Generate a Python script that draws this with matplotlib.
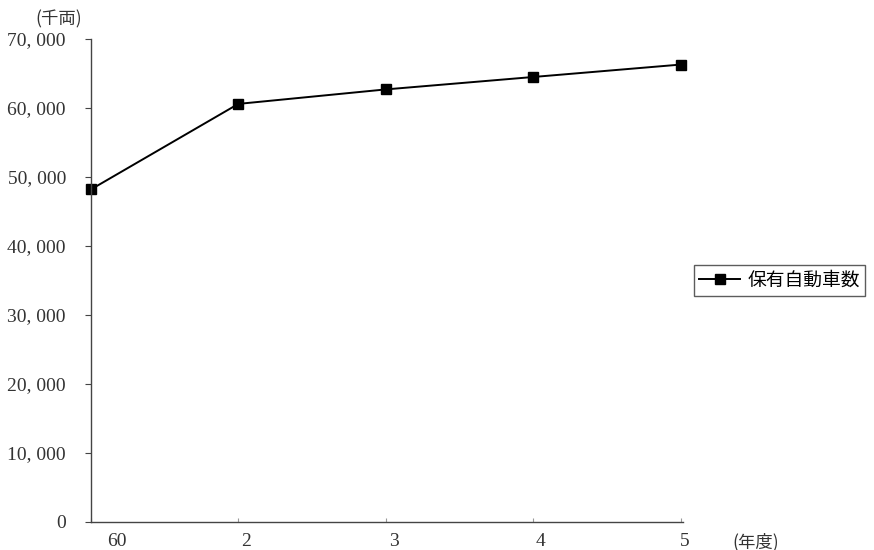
import matplotlib.pyplot as plt
import matplotlib.transforms as mtransforms
from matplotlib.ticker import FuncFormatter

# vehicles owned (thousand units) by fiscal year
years = ['60', '2', '3', '4', '5']
vehicles = [48200, 60600, 62700, 64500, 66300]

jp = ['Noto Sans CJK JP', 'DejaVu Sans']
num_font = 'Liberation Serif'

fig = plt.figure(figsize=(8.74, 5.5), dpi=100)
ax = fig.add_axes([0.104, 0.051, 0.677, 0.878])

pos = list(range(len(years)))
ax.plot(pos, vehicles, color='black', lw=1.4, marker='s', ms=7,
        clip_on=False, label='保有自動車数')

ax.set_xlim(0.0135, 4.0135)
ax.set_ylim(0, 70000)
ax.set_yticks(range(0, 70001, 10000))
ax.yaxis.set_major_formatter(FuncFormatter(lambda v, p: '0' if v == 0 else f'{int(v):,}'.replace(',', ', ')))
ax.set_xticks(pos)
ax.set_xticklabels(years)

for s in ['top', 'right']:
    ax.spines[s].set_visible(False)
for s in ['left', 'bottom']:
    ax.spines[s].set_color('#444444')
    ax.spines[s].set_linewidth(1.0)

ax.tick_params(axis='y', length=4, direction='out', pad=14, colors='#444444',
               labelsize=14, labelcolor='#333333')
ax.tick_params(axis='x', length=3, direction='in', colors='#999999', pad=8,
               labelsize=14, labelcolor='#333333')
# nudge the year labels a little to the right of their ticks
nudges = [26, 8, 8, 7, 4]
for t, dx in zip(ax.get_xticklabels(), nudges):
    t.set_family(num_font)
    t.set_transform(t.get_transform() + mtransforms.ScaledTranslation(dx / 100, 0, fig.dpi_scale_trans))
for t in ax.get_yticklabels():
    t.set_family(num_font)

fig.text(0.04, 0.955, '(千両)', family=jp, fontsize=12.5, color='#333333')
fig.text(0.838, 0.005, '(年度)', family=jp, fontsize=12.5, color='#333333')

leg = ax.legend(loc='center left', bbox_to_anchor=(1.02, 0.50), frameon=True,
                fancybox=False, prop={'family': jp, 'size': 13.5},
                handlelength=2.2, borderpad=0.25, handletextpad=0.4,
                borderaxespad=0)
leg.get_frame().set_edgecolor('#333333')
leg.get_frame().set_linewidth(1.0)

fig.savefig('out.png', dpi=100)
